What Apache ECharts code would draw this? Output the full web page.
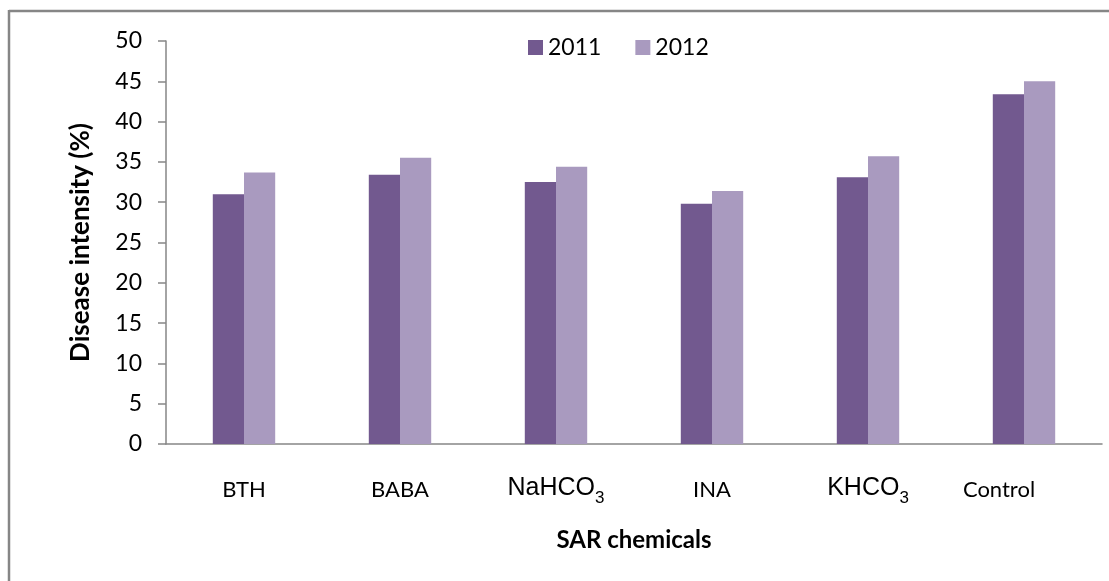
<!DOCTYPE html>
<html>
<head>
<meta charset="utf-8">
<script src="https://cdn.jsdelivr.net/npm/echarts@6/dist/echarts.min.js"></script>
<style>
  html, body { margin: 0; padding: 0; background: #fff; }
  #chart { width: 1109px; height: 581px; }
</style>
</head>
<body>
<div id="chart"></div>
<script>
// Disease intensity (%) under SAR chemical treatments, two seasons
const categories = ['BTH', 'BABA', 'NaHCO3', 'INA', 'KHCO3', 'Control'];
const series2011 = [31.0, 33.4, 32.5, 29.8, 33.1, 43.4];
const series2012 = [33.7, 35.5, 34.4, 31.4, 35.7, 45.0];
const yTicks = [0, 5, 10, 15, 20, 25, 30, 35, 40, 45, 50];

const axisGrey = '#868686';
const darkPurple = '#72598F';
const lightPurple = '#A99ABF';

const chart = echarts.init(document.getElementById('chart'), null, { renderer: 'canvas' });

// chemical formulas get a subscript digit; the untreated control label sits a little left
function formatCategory(name) {
  const m = name.match(/^(.*CO)(\d)$/);
  if (m) return '{f|' + m[1] + '}{s|' + m[2] + '}';
  if (name === 'Control') return '{e|' + name + '}';
  return '{c|' + name + '}';
}

const plainLabel = { fontFamily: 'Lato', fontSize: 22, color: '#000', lineHeight: 28, verticalAlign: 'bottom' };

chart.setOption({
  animation: false,
  backgroundColor: '#ffffff',
  textStyle: { fontFamily: 'Lato' },
  legend: {
    top: 31,
    left: 523,
    itemWidth: 15,
    itemHeight: 15,
    itemGap: 34,
    icon: 'rect',
    textStyle: { fontFamily: 'Lato', fontSize: 23, color: '#000' },
    data: ['2011', '2012']
  },
  grid: { left: 166, right: 7, top: 41, bottom: 137, containLabel: false },
  xAxis: {
    type: 'category',
    data: categories,
    name: 'SAR chemicals',
    nameLocation: 'middle',
    nameGap: 84,
    nameTextStyle: { fontFamily: 'Lato', fontWeight: 'bold', fontSize: 24, color: '#000' },
    axisLine: { lineStyle: { color: axisGrey, width: 1.5 } },
    axisTick: { show: false },
    axisLabel: {
      margin: 29,
      formatter: formatCategory,
      rich: {
        c: plainLabel,
        e: Object.assign({}, plainLabel, { padding: [0, 50, 0, 0] }),
        f: { fontFamily: 'Liberation Sans', fontSize: 25, color: '#000', lineHeight: 28, verticalAlign: 'bottom' },
        s: { fontFamily: 'Liberation Sans', fontSize: 17, color: '#000', lineHeight: 28, verticalAlign: 'bottom', padding: [0, 0, -6, 0] }
      }
    }
  },
  yAxis: {
    type: 'value',
    min: yTicks[0],
    max: yTicks[yTicks.length - 1],
    interval: 5,
    name: 'Disease intensity (%)',
    nameLocation: 'middle',
    nameGap: 72,
    nameTextStyle: { fontFamily: 'Lato', fontWeight: 'bold', fontSize: 26, color: '#000' },
    axisLine: { show: true, lineStyle: { color: axisGrey, width: 1.5 } },
    axisTick: { show: true, length: 8, lineStyle: { color: axisGrey, width: 1.5 } },
    splitLine: { show: false },
    axisLabel: { margin: 24, fontFamily: 'Lato', fontSize: 23, color: '#000' }
  },
  series: [
    {
      name: '2011', type: 'bar', data: series2011,
      itemStyle: { color: darkPurple },
      barGap: '0%', barCategoryGap: '60%'
    },
    {
      name: '2012', type: 'bar', data: series2012,
      itemStyle: { color: lightPurple },
      barGap: '0%', barCategoryGap: '60%'
    }
  ],
  graphic: [
    // outer frame edges (top and left)
    { type: 'line', shape: { x1: 9, y1: 11, x2: 1109, y2: 11 }, style: { stroke: axisGrey, lineWidth: 2.5 } },
    { type: 'line', shape: { x1: 9, y1: 10, x2: 9, y2: 581 }, style: { stroke: axisGrey, lineWidth: 2.5 } }
  ]
});
</script>
</body>
</html>
